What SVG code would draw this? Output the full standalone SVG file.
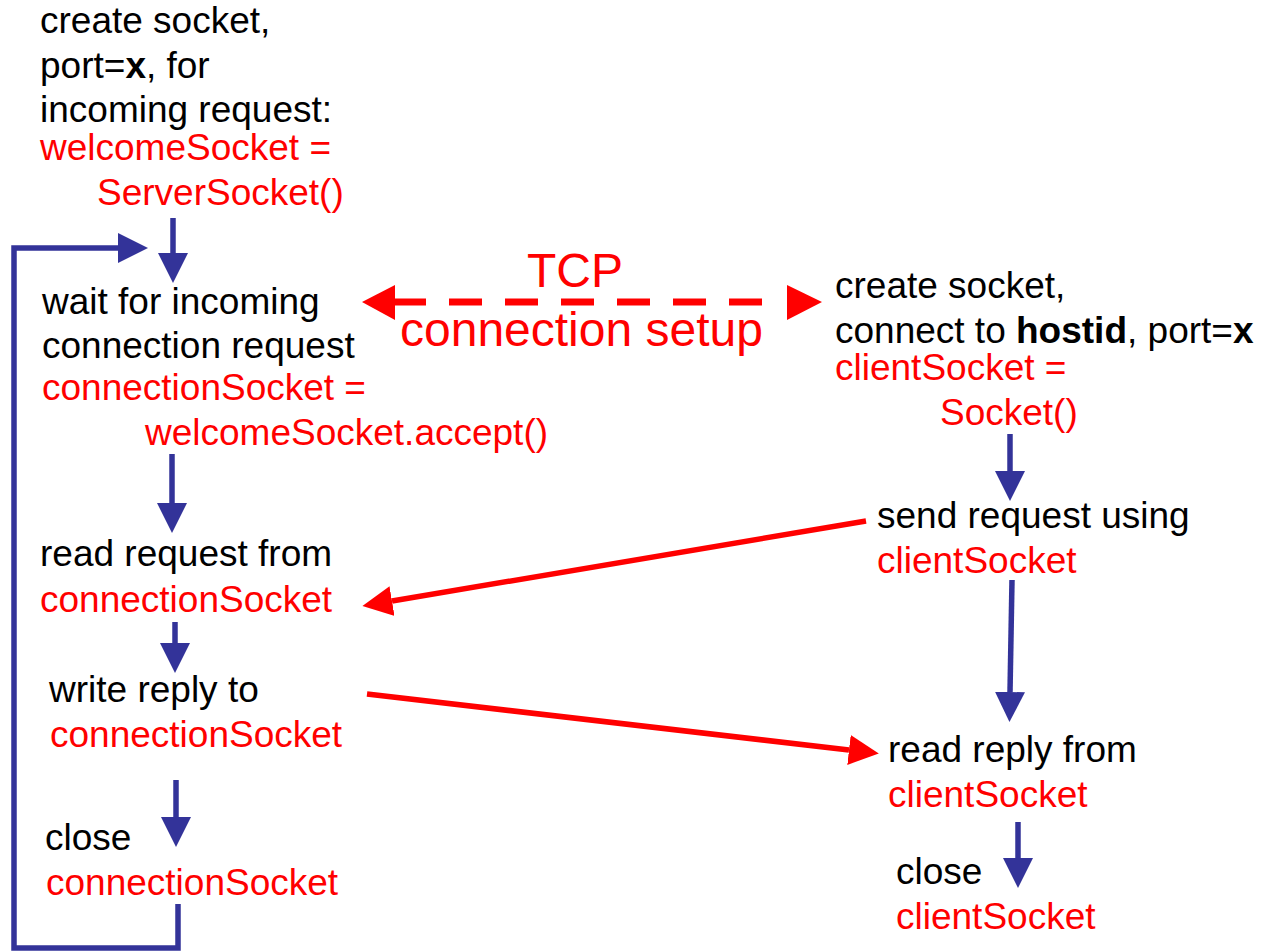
<svg xmlns="http://www.w3.org/2000/svg" width="1262" height="952" viewBox="0 0 1262 952">
<style>
text{font-family:"Liberation Sans",Arial,sans-serif;font-size:37px;fill:#000}
.r{fill:#ff0000}
.b{font-weight:bold}
.big{font-size:48px;fill:#ff0000}
.bl{stroke:#333399;stroke-width:5.5;fill:none}
.rl{stroke:#ff0000;stroke-width:5.5;fill:none}
</style>
<defs>
<marker id="ab" markerUnits="userSpaceOnUse" markerWidth="30" markerHeight="30" refX="0" refY="15" orient="auto"><path d="M0,0 L30,15 L0,30 z" fill="#333399"/></marker>
<marker id="ar" markerUnits="userSpaceOnUse" markerWidth="30" markerHeight="30" refX="0" refY="15" orient="auto"><path d="M0,0 L30,15 L0,30 z" fill="#ff0000"/></marker>
</defs>
<rect width="1262" height="952" fill="#fff"/>
<g id="create-welcome">
<text x="40" y="33">create socket,</text>
<text x="40" y="78">port=<tspan class="b">x</tspan>, for</text>
<text x="40" y="122">incoming request:</text>
<text x="40" y="160" class="r">welcomeSocket =</text>
<text x="97" y="205" class="r">ServerSocket()</text>
</g>
<g id="wait-accept">
<text x="42" y="314">wait for incoming</text>
<text x="42" y="358">connection request</text>
<text x="42" y="400" class="r">connectionSocket =</text>
<text x="145" y="445" class="r">welcomeSocket.accept()</text>
</g>
<g id="read-request">
<text x="40" y="566">read request from</text>
<text x="40" y="612" class="r">connectionSocket</text>
</g>
<g id="write-reply">
<text x="49" y="702">write reply to</text>
<text x="50" y="747" class="r">connectionSocket</text>
</g>
<g id="close-conn">
<text x="45" y="850">close</text>
<text x="46" y="895" class="r">connectionSocket</text>
</g>
<g id="create-client">
<text x="835" y="298">create socket,</text>
<text x="835" y="343">connect to <tspan class="b">hostid</tspan>, port=<tspan class="b">x</tspan></text>
<text x="835" y="380" class="r">clientSocket =</text>
<text x="940" y="425" class="r">Socket()</text>
</g>
<g id="send-request">
<text x="877" y="528">send request using</text>
<text x="877" y="573" class="r">clientSocket</text>
</g>
<g id="read-reply">
<text x="888" y="762">read reply from</text>
<text x="888" y="807" class="r">clientSocket</text>
</g>
<g id="close-client">
<text x="896" y="884">close</text>
<text x="896" y="929" class="r">clientSocket</text>
</g>
<g id="tcp-label">
<text x="527" y="287" class="big">TCP</text>
<text x="400" y="346" class="big">connection setup</text>
</g>
<g id="connectors">
<line class="bl" x1="173" y1="218" x2="173" y2="253" marker-end="url(#ab)"/>
<line class="bl" x1="172" y1="454" x2="172" y2="503" marker-end="url(#ab)"/>
<line class="bl" x1="175" y1="622" x2="175" y2="643" marker-end="url(#ab)"/>
<line class="bl" x1="176" y1="780" x2="176" y2="817" marker-end="url(#ab)"/>
<polyline class="bl" points="178,904 178,948 14,948 14,248 118,248" marker-end="url(#ab)"/>
<line class="bl" x1="1010" y1="434" x2="1010" y2="471" marker-end="url(#ab)"/>
<line class="bl" x1="1012" y1="580" x2="1010" y2="692" marker-end="url(#ab)"/>
<line class="bl" x1="1018" y1="822" x2="1018" y2="858" marker-end="url(#ab)"/>
<line class="rl" x1="866" y1="521" x2="392" y2="601" marker-end="url(#ar)"/>
<line class="rl" x1="367" y1="694" x2="849" y2="750" marker-end="url(#ar)"/>
<line x1="393" y1="302" x2="763" y2="302" stroke="#ff0000" stroke-width="7" stroke-dasharray="33 23"/>
<polygon points="362,302 395,285 395,320" fill="#ff0000"/>
<polygon points="822,302 787,285 787,320" fill="#ff0000"/>
</g>
</svg>
